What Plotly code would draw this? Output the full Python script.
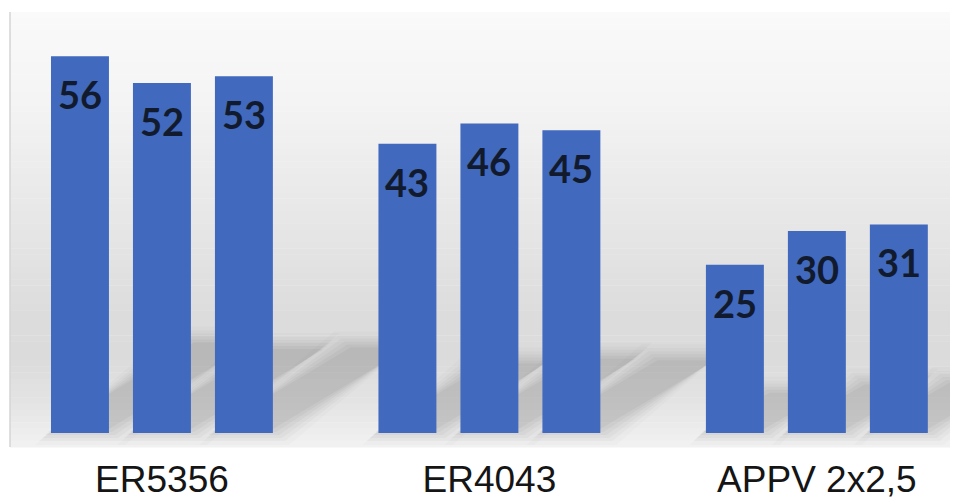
import plotly.graph_objects as go
import numpy as np

# ---- data ----
categories = ["ER5356", "ER4043", "APPV 2x2,5"]
series_a = [56, 43, 25]
series_b = [52, 46, 30]
series_c = [53, 45, 31]
series = [series_a, series_b, series_c]

# ---- style ----
BAR_COLOR = "#4169BE"
LABEL_COLOR = "#121b2e"
# page body adds an 8px offset, so the figure is 8px smaller on each axis
W, H = 950, 491
ML, MR, MT, MB = 2, 0, 4, 52
bargap = 0.249
bargroupgap = 0.293
x_range = [-0.464, 2.431]
y_range = [-2.08, 62.56]

plot_w = W - ML - MR
plot_h = H - MT - MB
ppx = plot_w / (x_range[1] - x_range[0])   # pixels per x unit
ppy = plot_h / (y_range[1] - y_range[0])   # pixels per y unit

fig = go.Figure()
for vals in series:
    fig.add_trace(go.Bar(
        x=list(range(len(categories))), y=vals,
        marker=dict(color=BAR_COLOR, line=dict(width=0)),
        showlegend=False, hoverinfo="y",
    ))

shapes = []
# background gradient (chart area)
stops_pos = [0.0, 0.20, 0.45, 0.70, 0.80, 0.90, 1.0]   # from top to bottom
stops_col = [250, 244, 232, 220, 219, 228, 242]
n = 70
for k in range(n):
    t0, t1 = k / n, (k + 1) / n
    g = int(round(np.interp((t0 + t1) / 2, stops_pos, stops_col)))
    shapes.append(dict(type="rect", xref="paper", yref="paper",
                       x0=0, x1=1, y0=1 - t1 - 0.001, y1=1 - t0,
                       fillcolor=f"rgb({g},{g},{g})", line=dict(width=0),
                       layer="below"))

# left edge line
shapes.append(dict(type="line", xref="paper", yref="paper", x0=0, x1=0,
                   y0=0, y1=1, line=dict(color="#d4d4d4", width=1.5),
                   layer="below"))

# soft shadows behind bars
slot = (1 - bargap) / len(series)
bar_w = slot * (1 - bargroupgap)
blur = [(16, 0.025), (12, 0.03), (9, 0.035), (6, 0.045), (3, 0.05), (0, 0.055)]
for j, vals in enumerate(series):
    for i, v in enumerate(vals):
        xc = i + (j - (len(series) - 1) / 2) * slot
        xl, xr = xc - bar_w / 2, xc + bar_w / 2
        dx = 0.38 * v * ppy / ppx
        dy = 0.24 * v
        y0 = 0.6
        for e_px, op in blur:
            ex = e_px / ppx
            ey = e_px / ppy
            path = (f"M {xl-ex},{y0-ey} L {xr+ex},{y0-ey} "
                    f"L {xr+dx+ex},{dy+ey} L {xl+dx-ex},{dy+ey} Z")
            shapes.append(dict(type="path", xref="x", yref="y", path=path,
                               fillcolor=f"rgba(70,70,70,{op})",
                               line=dict(width=0), layer="below"))

# value labels
annotations = []
for j, vals in enumerate(series):
    for i, v in enumerate(vals):
        xc = i + (j - (len(series) - 1) / 2) * slot
        annotations.append(dict(
            x=xc, y=v, xref="x", yref="y", text=str(v), showarrow=False,
            yanchor="middle", xanchor="center", yshift=-38,
            font=dict(family="Lato", size=38, color=LABEL_COLOR, weight="bold"),
        ))

fig.update_layout(
    width=W, height=H,
    margin=dict(l=ML, r=MR, t=MT, b=MB, pad=0, autoexpand=False),
    paper_bgcolor="white", plot_bgcolor="rgba(0,0,0,0)",
    barmode="group", bargap=bargap, bargroupgap=bargroupgap,
    shapes=shapes, annotations=annotations,
    xaxis=dict(range=x_range, tickmode="array", automargin=False,
               tickvals=list(range(len(categories))), ticktext=categories,
               tickfont=dict(family="Liberation Sans", size=37, color="#151515"),
               showgrid=False, zeroline=False, showline=False, ticks="",
               ticklabelstandoff=7, fixedrange=True),
    yaxis=dict(range=y_range, visible=False, showgrid=False, zeroline=False,
               automargin=False, fixedrange=True),
    showlegend=False,
)

fig.write_html("out.html")
